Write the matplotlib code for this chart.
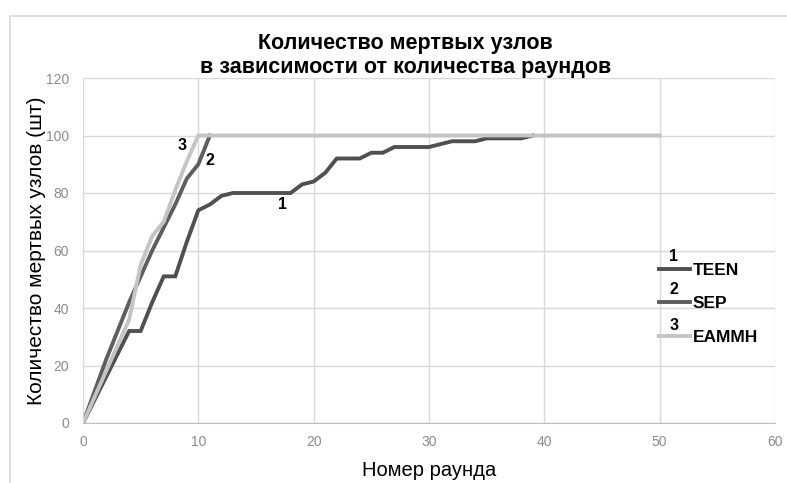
import matplotlib
matplotlib.use('agg')
import matplotlib.pyplot as plt
from matplotlib.patches import Rectangle

# data
teen_x = list(range(0, 40))
teen = [0, 8, 16, 24, 32, 32, 42, 51, 51, 63, 74, 76, 79, 80, 80, 80, 80, 80, 80, 83,
        84, 87, 92, 92, 92, 94, 94, 96, 96, 96, 96, 97, 98, 98, 98, 99, 99, 99, 99, 100]
sep_x = list(range(0, 12))
sep = [0, 11, 22, 32, 42, 51, 60, 68, 76, 85, 90, 100]
eammh_x = [0, 1, 2, 3, 4, 5, 6, 7, 8, 9, 10, 50]
eammh = [0, 9, 18, 27, 36, 55, 65, 70, 81, 91, 100, 100]

names = ["TEEN", "SEP", "EAMMH"]
colors = ["#505050", "#5e5e5e", "#c4c4c4"]

x_ticks = [0, 10, 20, 30, 40, 50, 60]
y_ticks = [0, 20, 40, 60, 80, 100, 120]

plt.rcParams['font.family'] = ['Liberation Sans', 'DejaVu Sans']

fig = plt.figure(figsize=(7.87, 4.83), dpi=100)
fig.patches.append(Rectangle((10 / 787, -0.1), 1.2, (483 - 16) / 483 + 0.1,
                             transform=fig.transFigure, fill=False,
                             edgecolor="#d9d9d9", linewidth=1.2))

ax = fig.add_axes([83 / 787, 60 / 483, 692 / 787, 345 / 483])

lines = []
for xs, ys, c in zip([teen_x, sep_x, eammh_x], [teen, sep, eammh], colors):
    ln, = ax.plot(xs, ys, color=c, linewidth=2.8, solid_joinstyle='miter')
    lines.append(ln)

ax.set_xlim(0, 60)
ax.set_ylim(0, 120)
ax.set_xticks(x_ticks)
ax.set_yticks(y_ticks)
ax.grid(True, color="#d9d9d9", linewidth=1)
ax.set_axisbelow(True)
for s in ["top", "right"]:
    ax.spines[s].set_visible(False)
ax.spines["left"].set_color("#d9d9d9")
ax.spines["bottom"].set_color("#bfbfbf")
ax.tick_params(length=0, labelsize=10, labelcolor="#8c8c8c")
ax.tick_params(axis='y', pad=10)
ax.tick_params(axis='x', pad=9)

ax.set_xlabel("Номер раунда", fontsize=14.5, labelpad=8)
ax.set_ylabel("Количество мертвых узлов (шт)", fontsize=15, labelpad=0)

fig.text(0.515, 0.885, "Количество мертвых узлов\nв зависимости от количества раундов",
         ha="center", va="center", fontsize=15.5, fontweight="bold",
         linespacing=1.15)

# numbers next to the curves
for num, (xv, yv) in zip(["1", "2", "3"], [(17.3, 76), (11.0, 91.4), (8.6, 96.5)]):
    ax.text(xv, yv, num, ha="center", va="center", fontsize=11.5, fontweight="bold")

leg = ax.legend(lines, names, loc="upper left", bbox_to_anchor=(0.81, 0.51),
                frameon=False, handlelength=1.75, handletextpad=0.2,
                labelspacing=1.05, prop={'weight': 'bold', 'size': 12.5})

for num, yf in zip(["1", "2", "3"], [0.484, 0.386, 0.284]):
    ax.text(0.854, yf, num, transform=ax.transAxes, ha="center", va="center",
            fontsize=11.5, fontweight="bold")

fig.savefig("out.png", dpi=100)
